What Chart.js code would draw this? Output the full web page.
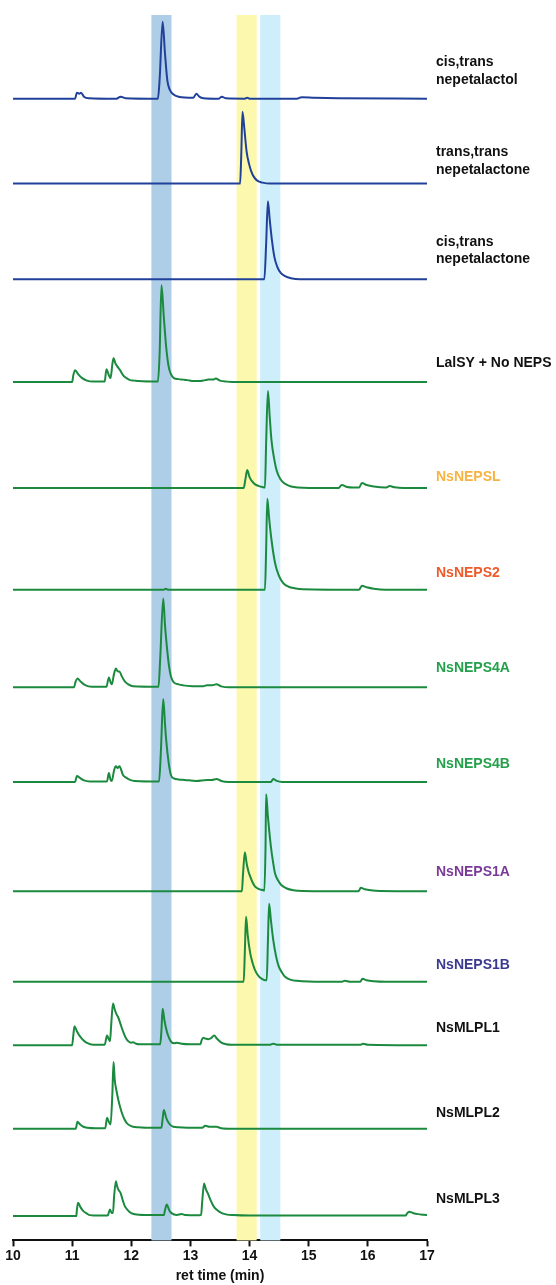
<!DOCTYPE html>
<html>
<head>
<meta charset="utf-8">
<script src="https://cdn.jsdelivr.net/npm/chart.js@4.4.1/dist/chart.umd.min.js"></script>
<style>
  body { margin: 0; background: #fff; }
  #wrap { width: 556px; height: 1285px; }
</style>
</head>
<body>
<div id="wrap"><canvas id="gcChart" width="556" height="1285"></canvas></div>
<script>
// ret time (min) ticks
const xTicks = [10, 11, 12, 13, 14, 15, 16, 17];

// highlighted retention windows
const bandLactol = [12.34, 12.68];
const bandTransTrans = [13.78, 14.12];
const bandCisTrans = [14.18, 14.52];

const traceNames = [
    ['cis,trans', 'nepetalactol'],
    ['trans,trans', 'nepetalactone'],
    ['cis,trans', 'nepetalactone'],
    ['LalSY + No NEPS'],
    ['NsNEPSL'],
    ['NsNEPS2'],
    ['NsNEPS4A'],
    ['NsNEPS4B'],
    ['NsNEPS1A'],
    ['NsNEPS1B'],
    ['NsMLPL1'],
    ['NsMLPL2'],
    ['NsMLPL3']
];

// signal: [ret time, response]
const lactolStd = [[10,0],[11.05,0],[11.08,6],[11.12,5],[11.15,6],[11.2,2],[11.28,0.5],[11.75,0],[11.82,2],[11.9,0.5],[12.45,0],[12.48,20],[12.53,77],[12.57,45],[12.61,18],[12.65,9],[12.72,4],[12.8,2],[13.05,1],[13.1,5],[13.15,2],[13.22,0.5],[13.48,0],[13.53,2],[13.6,0.3],[13.92,0],[13.96,1],[14.0,0],[14.8,0],[14.88,1.5],[15.1,1],[15.5,0.5],[17,0]];
const ttLactoneStd = [[10,0],[13.84,0],[13.86,30],[13.88,72],[13.91,56],[13.95,32],[13.99,20],[14.03,12],[14.07,7],[14.13,3],[14.22,1],[14.35,0],[17,0]];
const ctLactoneStd = [[10,0],[14.25,0],[14.28,35],[14.31,78],[14.34,60],[14.38,38],[14.42,22],[14.47,12],[14.53,6],[14.6,3],[14.7,1],[14.85,0],[17,0]];
const lalsyNoNeps = [[10,0],[11.0,0],[11.02,7],[11.05,12],[11.1,8],[11.17,4],[11.25,1.5],[11.35,0.5],[11.55,0.5],[11.58,13],[11.62,7],[11.65,4],[11.68,18],[11.70,24],[11.73,19],[11.76,16],[11.81,12],[11.86,7],[11.92,4],[11.98,2],[12.05,1.5],[12.12,1],[12.45,0.5],[12.48,30],[12.51,97],[12.55,65],[12.59,35],[12.63,16],[12.67,8],[12.72,4],[12.8,3],[12.88,2.5],[12.95,2],[13.05,1],[13.15,1],[13.25,2],[13.3,2.5],[13.38,2.5],[13.43,3.5],[13.5,1.5],[13.62,0.5],[13.76,0],[17,0]];
const nepsL = [[10,0],[13.9,0],[13.93,9],[13.96,18],[14.0,11],[14.04,7],[14.1,3.5],[14.16,2],[14.22,1],[14.26,0.5],[14.28,45],[14.31,97],[14.34,72],[14.37,48],[14.42,28],[14.46,17],[14.52,9],[14.58,5],[14.66,2.5],[14.75,1],[14.9,0.3],[15.5,0],[15.56,3],[15.65,1],[15.75,0.5],[15.85,0.5],[15.9,5],[15.98,3],[16.1,1.5],[16.3,0.5],[16.37,2],[16.45,0.8],[16.6,0],[17,0]];
const neps2 = [[10,0],[12.55,0],[12.58,1],[12.62,0],[14.26,0],[14.28,40],[14.30,91],[14.33,72],[14.37,50],[14.42,30],[14.46,20],[14.52,11],[14.58,6],[14.66,3],[14.76,1.5],[14.9,0.5],[15.85,0],[15.9,4],[15.98,2.5],[16.1,1],[16.3,0],[17,0]];
const neps4A = [[10,0],[11.03,0],[11.06,6],[11.09,9],[11.14,6],[11.2,3],[11.28,1],[11.4,0.5],[11.58,0.5],[11.62,10],[11.65,5],[11.67,3],[11.71,14],[11.74,19],[11.77,16],[11.8,16],[11.84,11],[11.89,6],[11.95,3],[12.03,1],[12.46,0.5],[12.49,30],[12.54,89],[12.57,62],[12.59,48],[12.63,25],[12.67,11],[12.72,5],[12.8,3],[12.88,2],[12.95,1.5],[13.1,1],[13.2,1],[13.28,2],[13.35,2],[13.44,3],[13.52,1],[13.65,0],[17,0]];
const neps4B = [[10,0],[11.05,0],[11.08,6],[11.13,4],[11.2,1.5],[11.3,0.5],[11.59,0.5],[11.62,9],[11.65,2],[11.67,1],[11.71,12],[11.74,15.6],[11.77,14],[11.80,15.6],[11.86,7],[11.92,4],[11.98,2],[12.06,1],[12.47,0.5],[12.5,30],[12.54,83],[12.57,58],[12.59,42],[12.63,20],[12.67,7],[12.72,3.5],[12.8,2.5],[12.9,2],[13.1,1],[13.28,2],[13.36,2],[13.44,3],[13.52,1],[13.65,0],[14.36,0],[14.4,3],[14.46,1],[14.55,0],[17,0]];
const neps1A = [[10,0],[13.87,0],[13.89,18],[13.92,39],[13.95,28],[13.98,20],[14.01,15],[14.05,9],[14.09,5],[14.15,2.5],[14.23,1],[14.25,0.5],[14.27,45],[14.28,97],[14.31,75],[14.36,45],[14.4,28],[14.43,18],[14.48,11],[14.54,6],[14.62,3],[14.74,1],[14.9,0.3],[15.84,0],[15.88,3.4],[15.95,2],[16.05,1],[16.2,0.3],[17,0]];
const neps1B = [[10,0],[13.9,0],[13.92,30],[13.94,65],[13.97,46],[14.01,29],[14.05,19],[14.09,12],[14.15,6],[14.21,3],[14.27,1.5],[14.29,1.5],[14.31,40],[14.33,78],[14.36,62],[14.40,42],[14.45,25],[14.49,16],[14.55,9],[14.6,5],[14.7,2],[14.8,1],[15.0,0.3],[15.55,0],[15.61,1],[15.7,0],[15.87,0],[15.91,3],[15.98,1.5],[16.1,0.5],[16.3,0],[17,0]];
const mlpl1 = [[10,0],[11.0,0],[11.02,10],[11.04,19],[11.08,14],[11.13,9],[11.19,5],[11.25,2.3],[11.36,0.5],[11.55,0.5],[11.59,9.7],[11.62,6],[11.64,4],[11.66,20],[11.69,41.7],[11.72,35.7],[11.75,31],[11.78,27.7],[11.83,19],[11.87,12.3],[11.91,7],[11.95,4],[12.0,2.5],[12.03,3],[12.08,1.5],[12.14,1],[12.49,1],[12.51,15],[12.53,36.4],[12.56,25],[12.6,14],[12.64,7],[12.68,3],[12.73,2],[12.77,2.5],[12.85,1.5],[13.0,1],[13.17,1],[13.19,5],[13.22,7.4],[13.26,6.5],[13.3,6],[13.35,7],[13.4,9.7],[13.45,6.5],[13.53,2.3],[13.6,1],[13.7,0.5],[14.35,0.5],[14.4,1.5],[14.46,0.5],[15.88,0.5],[15.92,1.5],[16.0,0.5],[17,0]];
const mlpl2 = [[10,0],[11.06,0],[11.09,7],[11.13,4.5],[11.19,2],[11.26,1],[11.4,0.5],[11.56,0.5],[11.59,11],[11.62,7],[11.65,4.3],[11.68,35],[11.70,66.7],[11.72,49],[11.75,38],[11.78,29],[11.81,22],[11.84,16],[11.88,10],[11.92,6],[11.97,3.5],[12.03,2],[12.12,1.5],[12.3,1],[12.51,1],[12.53,10],[12.55,18.7],[12.59,11],[12.63,6],[12.71,2],[12.8,1.5],[13.0,1],[13.2,1],[13.25,3],[13.32,2],[13.44,2],[13.52,0.5],[13.7,0],[17,0]];
const mlpl3 = [[10,0],[11.07,0],[11.08,6],[11.10,13.4],[11.14,9],[11.19,5],[11.25,2.5],[11.3,1],[11.45,0.5],[11.6,0.5],[11.64,6.7],[11.67,3],[11.69,3],[11.71,20],[11.74,35],[11.76,30],[11.78,26.7],[11.82,23],[11.86,15],[11.89,10],[11.94,6],[12.0,3],[12.09,1.5],[12.3,1],[12.55,1],[12.57,6],[12.6,11.7],[12.64,6],[12.68,3],[12.77,1.2],[12.85,2],[12.92,1],[13.1,0.8],[13.18,1],[13.2,15],[13.23,32.7],[13.26,27],[13.3,22],[13.34,16],[13.39,10],[13.45,6],[13.53,3],[13.62,1.5],[13.72,1],[14.0,0.5],[16.64,0.5],[16.66,2.5],[16.7,4.4],[16.76,3.2],[16.85,2],[16.95,1.3],[17,1]];

const traces = [lactolStd, ttLactoneStd, ctLactoneStd, lalsyNoNeps, nepsL, neps2,
    neps4A, neps4B, neps1A, neps1B, mlpl1, mlpl2, mlpl3];

// layout: where each trace baseline sits (canvas px) and its label colour
const blue = '#21409a';
const green = '#1b8a3e';
const baselines = [98.7, 183.7, 279.3, 382.3, 488.3, 590, 687.7, 782.3, 891.7, 982.3, 1045.7, 1129.3, 1216.7];
const labelY = [[62, 80], [152, 170], [242, 259], [363], [477], [573], [668], [764], [872], [965], [1028], [1113], [1199]];
const labelColors = ['#111', '#111', '#111', '#111', '#f7b443', '#ef5a2b', '#24a04a', '#24a04a',
    '#7a3b96', '#3c3a90', '#111', '#111', '#111'];
const lineColors = [blue, blue, blue, green, green, green, green, green, green, green, green, green, green];

const datasets = traces.map((tr, i) => ({
    data: tr.map(p => ({ x: p[0], y: baselines[i] - p[1] })),
    borderColor: lineColors[i],
    borderWidth: 2,
    pointRadius: 0,
    fill: false,
    cubicInterpolationMode: 'monotone'
}));

const bands = [
    { range: bandLactol, color: '#aecde6' },
    { range: bandTransTrans, color: '#fcf8ae' },
    { range: bandCisTrans, color: '#cdeefa' }
];

const bandPlugin = {
    id: 'bands',
    beforeDatasetsDraw(chart) {
        const { ctx, chartArea, scales } = chart;
        ctx.save();
        bands.forEach(b => {
            const x1 = scales.x.getPixelForValue(b.range[0]);
            const x2 = scales.x.getPixelForValue(b.range[1]);
            ctx.fillStyle = b.color;
            ctx.fillRect(x1, chartArea.top, x2 - x1, chartArea.bottom - chartArea.top);
        });
        ctx.restore();
    }
};

const labelPlugin = {
    id: 'traceLabels',
    afterDraw(chart) {
        const ctx = chart.ctx;
        ctx.save();
        ctx.font = 'bold 14px "Liberation Sans", Arial, sans-serif';
        ctx.textBaseline = 'middle';
        traceNames.forEach((lines, i) => {
            ctx.fillStyle = labelColors[i];
            lines.forEach((txt, j) => ctx.fillText(txt, 436, labelY[i][j]));
        });
        ctx.restore();
    }
};

const chart = new Chart(document.getElementById('gcChart'), {
    type: 'line',
    data: { datasets: datasets },
    plugins: [bandPlugin, labelPlugin],
    options: {
        responsive: false,
        animation: false,
        devicePixelRatio: 1,
        layout: { padding: { left: 13, right: 129, top: 15, bottom: 0 } },
        plugins: { legend: false, tooltip: { enabled: false } },
        scales: {
            x: {
                type: 'linear',
                min: 10,
                max: 17,
                afterBuildTicks: axis => { axis.ticks = xTicks.map(v => ({ value: v })); },
                ticks: {
                    color: '#111',
                    padding: 1,
                    maxRotation: 0,
                    font: { family: '"Liberation Sans", Arial, sans-serif', size: 14, weight: 'bold' }
                },
                grid: { drawOnChartArea: false, color: '#111', tickLength: 6, tickWidth: 2 },
                border: { color: '#111', width: 2 },
                title: {
                    display: true,
                    text: 'ret time (min)',
                    color: '#111',
                    padding: { top: 3, bottom: 0 },
                    font: { family: '"Liberation Sans", Arial, sans-serif', size: 14, weight: 'bold' }
                }
            },
            y: {
                display: false,
                reverse: true,
                min: 15,
                max: 1241
            }
        }
    }
});
</script>
</body>
</html>
